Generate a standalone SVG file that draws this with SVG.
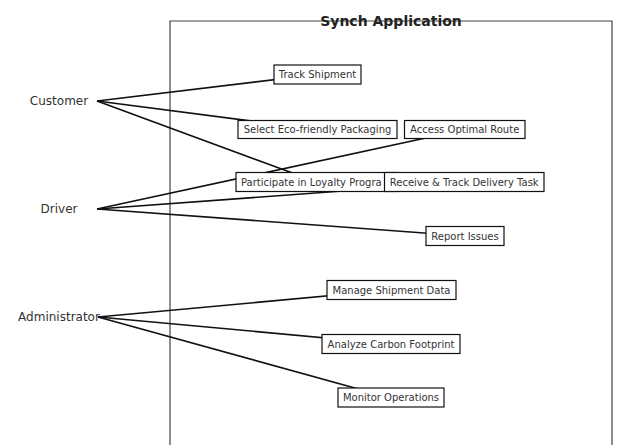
<svg xmlns="http://www.w3.org/2000/svg" width="617" height="445" viewBox="0 0 617 445">
<style>
.sys{fill:none;stroke:#444;stroke-width:1.2}
.title{font-family:"DejaVu Sans",sans-serif;font-size:14px;font-weight:bold;fill:#222;text-anchor:middle}
.actor{font-family:"DejaVu Sans",sans-serif;font-size:12px;fill:#333;text-anchor:middle}
.uc rect{fill:#fff;stroke:#111;stroke-width:1.2}
.uc text{font-family:"DejaVu Sans",sans-serif;font-size:10px;fill:#333;text-anchor:middle}
.conn line{stroke:#111;stroke-width:1.6}
</style>
<rect width="617" height="445" fill="#fff"/>
<g id="system">
<polyline class="sys" points="170,445 170,21 612,21 612,445"/>
<text class="title" x="391" y="26">Synch Application</text>
</g>
<g id="connectors" class="conn">
<line x1="97" y1="101" x2="317" y2="74.5"/>
<line x1="97" y1="101" x2="317" y2="129.5"/>
<line x1="97" y1="101" x2="317" y2="182"/>
<line x1="97" y1="209" x2="465" y2="129.5"/>
<line x1="97" y1="209" x2="465" y2="182"/>
<line x1="97" y1="209" x2="465" y2="236"/>
<line x1="98" y1="317" x2="391" y2="290"/>
<line x1="98" y1="317" x2="391" y2="344"/>
<line x1="98" y1="317" x2="391" y2="398"/>
</g>
<g id="actor-customer"><text class="actor" x="59" y="105">Customer</text></g>
<g id="actor-driver"><text class="actor" x="59" y="213">Driver</text></g>
<g id="actor-administrator"><text class="actor" x="59" y="321">Administrator</text></g>
<g id="uc-track" class="uc"><rect x="274" y="65" width="87" height="19"/><text x="317.5" y="78">Track Shipment</text></g>
<g id="uc-eco" class="uc"><rect x="238" y="120.5" width="159" height="18"/><text x="317.5" y="133">Select Eco-friendly Packaging</text></g>
<g id="uc-route" class="uc"><rect x="404.5" y="120.5" width="120.5" height="18"/><text x="464.7" y="133">Access Optimal Route</text></g>
<g id="uc-loyalty" class="uc"><rect x="236" y="172.5" width="162" height="19"/><text x="241" y="185.5" style="text-anchor:start">Participate in Loyalty Progra</text></g>
<g id="uc-receive" class="uc"><rect x="384.5" y="172.5" width="159.5" height="19"/><text x="464.2" y="185.5">Receive &amp; Track Delivery Task</text></g>
<g id="uc-report" class="uc"><rect x="426" y="226.5" width="78" height="19"/><text x="465" y="239.5">Report Issues</text></g>
<g id="uc-manage" class="uc"><rect x="327" y="280.5" width="129" height="19"/><text x="391.5" y="293.5">Manage Shipment Data</text></g>
<g id="uc-carbon" class="uc"><rect x="322" y="334.5" width="138" height="19"/><text x="391" y="347.5">Analyze Carbon Footprint</text></g>
<g id="uc-monitor" class="uc"><rect x="338" y="388" width="106" height="19"/><text x="391" y="401">Monitor Operations</text></g>
</svg>
